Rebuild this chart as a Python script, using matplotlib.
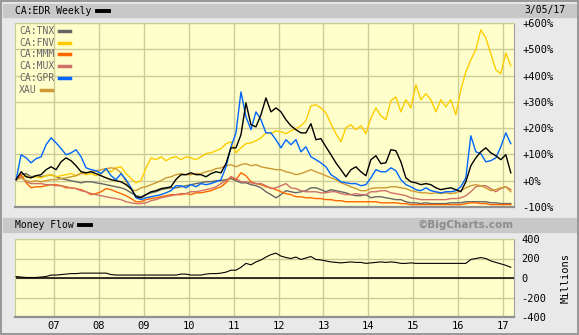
import matplotlib
matplotlib.use("Agg")
import matplotlib.pyplot as plt
from matplotlib.patches import Rectangle
from matplotlib.lines import Line2D
import pandas as pd

# weekly closes resampled to 100 points, % change since start
dates = pd.date_range("2006-02-26", "2017-03-05", periods=100)

edr = [4, 34, 15, 11, 19, 23, 42, 53, 42, 72, 87, 76, 57, 34, 30, 34, 27, 19, 11, 4,
       0, -4, -15, -30, -61, -65, -53, -42, -38, -30, -27, -23, 5, 23, 23, 30, 23, 23, 15, 27,
       34, 30, 65, 125, 125, 175, 296, 213, 205, 251, 315, 262, 277, 262, 232, 209, 194, 182, 182, 217,
       156, 160, 129, 99, 68, 42, 15, 42, 53, 34, 19, 80, 95, 65, 68, 118, 114, 72, 11, -4,
       -8, -15, -11, -15, -27, -34, -30, -27, -34, -42, -4, 57, 87, 110, 125, 106, 95, 80, 99, 30]
tnx = [4, 23, 27, 15, 19, 15, 19, 23, 15, 8, 4, 0, -4, -8, -4, -4, -8, -11, -15, -19,
       -23, -27, -34, -46, -57, -61, -53, -46, -42, -34, -30, -27, -27, -23, -19, -15, -11, -8, -4, -4,
       0, 0, 4, 8, 0, -8, -8, -15, -19, -27, -42, -53, -65, -53, -38, -42, -46, -42, -38, -27,
       -27, -34, -42, -34, -38, -42, -46, -53, -57, -57, -53, -65, -61, -61, -65, -68, -72, -72, -80, -84,
       -84, -87, -84, -87, -87, -87, -87, -84, -84, -84, -80, -80, -80, -80, -80, -84, -84, -87, -87, -87]
fnv = [4, 11, 19, 11, 15, 11, 19, 23, 15, 19, 23, 27, 19, 30, 23, 27, 19, 27, 42, 34,
       49, 53, 27, 8, -8, 0, 49, 87, 80, 91, 76, 87, 91, 80, 91, 87, 80, 91, 103, 106,
       114, 122, 141, 148, 106, 125, 141, 144, 152, 163, 182, 179, 190, 186, 179, 190, 198, 209, 228, 285,
       289, 277, 258, 217, 179, 148, 201, 213, 194, 209, 179, 239, 277, 247, 232, 304, 319, 262, 308, 277,
       365, 308, 331, 308, 262, 308, 281, 308, 251, 346, 414, 460, 498, 574, 543, 483, 422, 407, 486, 437]
mmm = [4, 23, -8, -27, -23, -23, -19, -15, -15, -19, -27, -27, -30, -34, -42, -53, -49, -42, -30, -34,
       -42, -49, -57, -68, -80, -80, -72, -68, -65, -61, -57, -53, -53, -53, -49, -53, -46, -46, -42, -38,
       -30, -23, -8, 15, 4, 30, 19, -4, -11, -15, -23, -27, -34, -42, -49, -53, -61, -61, -65, -65,
       -68, -68, -72, -72, -76, -76, -80, -80, -80, -80, -80, -80, -80, -84, -84, -84, -84, -87, -87, -91,
       -91, -91, -91, -91, -91, -91, -91, -91, -91, -91, -87, -84, -84, -87, -87, -91, -91, -91, -91, -91]
mux = [4, 15, -4, -11, -11, -11, -15, -15, -19, -19, -23, -27, -30, -38, -42, -49, -53, -57, -61, -65,
       -68, -72, -80, -84, -87, -87, -84, -76, -72, -65, -61, -57, -53, -49, -49, -42, -42, -38, -34, -30,
       -23, -11, 0, 15, 8, -4, -4, -8, -11, -11, -19, -30, -27, -19, -11, -27, -30, -38, -42, -42,
       -42, -46, -46, -42, -42, -49, -53, -53, -49, -53, -53, -42, -42, -38, -38, -46, -49, -53, -57, -65,
       -68, -72, -72, -72, -72, -72, -72, -68, -68, -65, -57, -42, -23, -19, -19, -30, -42, -30, -23, -34]
gpr = [4, 99, 87, 68, 84, 91, 137, 163, 144, 122, 99, 106, 118, 91, 49, 42, 38, 27, 46, 19,
       4, 27, 4, -27, -65, -72, -65, -61, -57, -53, -46, -38, -19, -19, -27, -15, -23, -11, -15, -11,
       -4, 4, 53, 129, 182, 338, 243, 194, 262, 232, 182, 182, 156, 125, 156, 137, 156, 110, 129, 91,
       80, 68, 53, 23, 11, -4, -8, -11, -11, -19, -15, 11, 42, 34, 34, 49, 38, 4, -15, -23,
       -34, -38, -27, -38, -42, -46, -42, -42, -38, -23, 11, 171, 110, 103, 72, 76, 87, 129, 182, 141]
xau = [4, 11, 0, -4, 0, -4, 0, 4, 4, 8, 11, 15, 19, 27, 30, 34, 38, 42, 46, 49,
       46, 30, -4, -34, -38, -27, -23, -15, -8, 0, 11, 15, 23, 27, 23, 23, 27, 27, 34, 38,
       46, 49, 57, 61, 53, 61, 65, 57, 61, 53, 49, 46, 42, 42, 34, 30, 23, 27, 34, 42,
       34, 27, 19, 11, 4, -8, -15, -23, -30, -38, -38, -30, -27, -27, -27, -23, -23, -27, -30, -38,
       -42, -46, -46, -49, -46, -49, -46, -49, -46, -38, -27, -19, -15, -19, -27, -38, -34, -27, -23, -42]
money_flow = [15, 10, 5, 5, 5, 10, 15, 30, 30, 35, 40, 45, 45, 50, 50, 50, 50, 50, 50, 35,
              30, 30, 30, 30, 30, 30, 30, 30, 30, 30, 30, 30, 30, 40, 40, 30, 30, 30, 40, 45,
              45, 50, 60, 80, 80, 110, 150, 135, 165, 185, 215, 240, 255, 225, 210, 200, 215, 190, 205, 220,
              190, 185, 175, 165, 160, 155, 160, 165, 160, 160, 150, 155, 160, 165, 160, 165, 160, 150, 150, 155,
              150, 150, 150, 150, 150, 150, 150, 150, 150, 150, 150, 190, 200, 210, 200, 175, 160, 145, 130, 110]

series = [
    ("CA:TNX", tnx, "#666666"),
    ("CA:FNV", fnv, "#ffcc00"),
    ("CA:MMM", mmm, "#ff6600"),
    ("CA:MUX", mux, "#d07068"),
    ("CA:GPR", gpr, "#0066ff"),
    ("XAU", xau, "#cc9933"),
]
pct_ticks = [600, 500, 400, 300, 200, 100, 0, -100]
mf_ticks = [400, 200, 0, -200, -400]
years = list(range(2007, 2018))

W, H = 579, 335
MONO = "DejaVu Sans Mono"
BG = "#ffffcc"
GRID = "#cccc99"


def fx(x):
    return x / W


def fy(y):
    return 1 - y / H


fig = plt.figure(figsize=(W / 100, H / 100), dpi=100)
fig.patch.set_facecolor("#e9e9e9")

# header bars + outer frame
for top, bottom in ((4, 17), (218, 232)):
    fig.patches.append(Rectangle((fx(3), fy(bottom)), fx(573), (bottom - top) / H,
                                 transform=fig.transFigure, color="#c8c8c8", zorder=0))
fig.patches.append(Rectangle((fx(0.5), fy(333.5)), fx(577.5), 333 / H, transform=fig.transFigure,
                             fill=False, edgecolor="#8a8a8a", lw=1.2))

fig.text(fx(15), fy(10.5), "CA:EDR Weekly", family=MONO, fontsize=7, va="center")
fig.lines.append(Line2D([fx(97), fx(109)], [fy(10.5), fy(10.5)], transform=fig.transFigure,
                        color="black", lw=2.8))
fig.text(fx(565), fy(10.5), "3/05/17", family=MONO, fontsize=7, va="center", ha="right")

fig.text(fx(15), fy(225), "Money Flow", family=MONO, fontsize=7, va="center")
fig.lines.append(Line2D([fx(79), fx(91)], [fy(225), fy(225)], transform=fig.transFigure,
                        color="black", lw=2.8))
fig.text(fx(514), fy(225), "\u00a9BigCharts.com", fontsize=7.5, va="center", ha="right",
         color="#8c8c8c", weight="bold")


def style_axes(ax):
    ax.set_facecolor(BG)
    for side in ("top", "left"):
        ax.spines[side].set_color(GRID)
    ax.spines["right"].set_color("#a0a0a0")
    ax.spines["bottom"].set_color("#909090")
    ax.spines["bottom"].set_linewidth(1.6)
    ax.grid(True, color=GRID, lw=1)
    ax.set_axisbelow(True)
    ax.yaxis.tick_right()
    ax.tick_params(length=0, labelsize=7.5)
    for lab in ax.get_yticklabels() + ax.get_xticklabels():
        lab.set_family(MONO)


year_ticks = [pd.Timestamp(f"{y}-01-01") for y in years]
xlim = (pd.Timestamp("2006-02-17"), pd.Timestamp("2017-03-31"))

ax = fig.add_axes([fx(15), fy(207), fx(499), 184 / H])
for name, vals, color in series:
    z = 3 if name == "CA:GPR" else 2
    ax.plot(dates, vals, color=color, lw=1.0, zorder=z)
ax.plot(dates, edr, color="black", lw=1.0, zorder=4)
ax.set_xlim(*xlim)
ax.set_ylim(-100, 600)
ax.set_xticks(year_ticks)
ax.set_xticklabels([])
ax.set_yticks(pct_ticks)
ax.set_yticklabels([f"{v:+d}%" if v else "+0%" for v in pct_ticks])
style_axes(ax)
ax.tick_params(axis="y", pad=6)

# legend in the corner
legend_y = [31, 43, 54, 66, 78, 90]
for (name, vals, color), ly in zip(series, legend_y):
    fig.text(fx(19), fy(ly), name, family=MONO, fontsize=7, va="center", color="#666666")
    x0 = 19 + len(name) * 5.8 + 5
    fig.lines.append(Line2D([fx(x0), fx(x0 + 11)], [fy(ly), fy(ly)], transform=fig.transFigure,
                            color=color, lw=2.5))

ax2 = fig.add_axes([fx(15), fy(317), fx(499), 78 / H])
ax2.plot(dates, money_flow, color="black", lw=0.8, zorder=3)
ax2.axhline(0, color="black", lw=1.1, zorder=2)
ax2.set_xlim(*xlim)
ax2.set_ylim(-400, 400)
ax2.set_xticks(year_ticks)
ax2.set_xticklabels([f"{y % 100:02d}" for y in years])
ax2.set_yticks(mf_ticks)
ax2.set_yticklabels([str(v) for v in mf_ticks])
style_axes(ax2)
ax2.tick_params(axis="y", pad=5)
ax2.tick_params(axis="x", pad=3)
fig.text(fx(566), fy(278), "Millions", family=MONO, fontsize=7.5, rotation=90,
         ha="center", va="center")

fig.savefig("out.png", dpi=100, facecolor=fig.get_facecolor())
